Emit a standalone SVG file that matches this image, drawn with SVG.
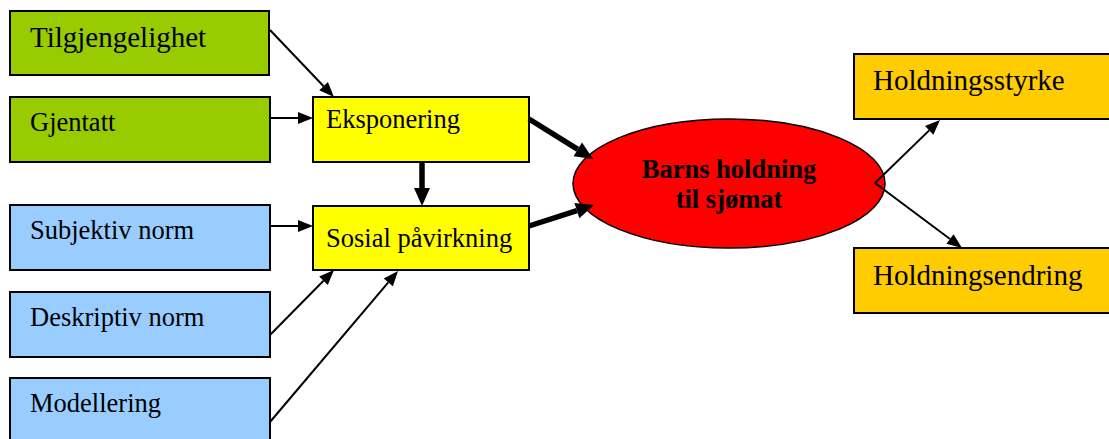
<svg xmlns="http://www.w3.org/2000/svg" width="1109" height="439" viewBox="0 0 1109 439">
<style>
  .box{stroke:#000;stroke-width:2}
  .g{fill:#99CC00}.y{fill:#FFFF00}.b{fill:#99CCFF}.o{fill:#FFCC00}
  .t{font-family:"Liberation Serif","Times New Roman",serif;fill:#000;font-size:26.5px}
  .big{font-size:29px}
  .bold{font-weight:bold;text-anchor:middle}
  .thin{stroke:#000;stroke-width:2;fill:none;marker-end:url(#ah)}
  .thick{stroke:#000;stroke-width:5.5;fill:none;marker-end:url(#ahk)}
</style>
<defs>
  <marker id="ah" markerUnits="userSpaceOnUse" markerWidth="15" markerHeight="12" refX="0" refY="6" orient="auto" overflow="visible">
    <path d="M0,0 L15,6 L0,12 z" fill="#000"/>
  </marker>
  <marker id="ahk" markerUnits="userSpaceOnUse" markerWidth="18" markerHeight="16" refX="0" refY="8" orient="auto" overflow="visible">
    <path d="M0,0 L18,8 L0,16 z" fill="#000"/>
  </marker>
</defs>
<rect width="1109" height="439" fill="#fff"/>
<g id="n-tilgjengelighet"><rect class="box g" x="10" y="11" width="259" height="64"/><text class="t big" x="30" y="47">Tilgjengelighet</text></g>
<g id="n-gjentatt"><rect class="box g" x="10" y="97" width="260" height="65"/><text class="t" x="30" y="131">Gjentatt</text></g>
<g id="n-subjektiv"><rect class="box b" x="10" y="205" width="260" height="65"/><text class="t" x="30" y="239">Subjektiv norm</text></g>
<g id="n-deskriptiv"><rect class="box b" x="10" y="292" width="260" height="65"/><text class="t" x="30" y="326">Deskriptiv norm</text></g>
<g id="n-modellering"><rect class="box b" x="10" y="378" width="260" height="70"/><text class="t" x="30" y="412">Modellering</text></g>
<g id="n-eksponering"><rect class="box y" x="313" y="97" width="216" height="65"/><text class="t" x="326" y="128">Eksponering</text></g>
<g id="n-sosial"><rect class="box y" x="313" y="206" width="216" height="64"/><text class="t" x="326" y="247">Sosial påvirkning</text></g>
<g id="n-barns">
  <ellipse cx="729" cy="183.5" rx="156" ry="64.5" fill="#FF0000" stroke="#000" stroke-width="1.5"/>
  <text class="t bold" x="729" y="178">Barns holdning</text>
  <text class="t bold" x="729" y="208">til sjømat</text>
</g>
<g id="n-styrke"><rect class="box o" x="854" y="54" width="265" height="65"/><text class="t big" x="873" y="90">Holdningsstyrke</text></g>
<g id="n-endring"><rect class="box o" x="854" y="248" width="265" height="65"/><text class="t big" x="873" y="285">Holdningsendring</text></g>
<g id="connectors">
  <line class="thin" x1="270" y1="30" x2="323.6" y2="86.2"/>
  <line class="thin" x1="270" y1="118" x2="298" y2="118"/>
  <line class="thin" x1="270" y1="226" x2="298" y2="226"/>
  <line class="thin" x1="270" y1="335" x2="323.5" y2="280.7"/>
  <line class="thin" x1="270" y1="422" x2="388.3" y2="282.4"/>
  <line class="thick" x1="529" y1="119" x2="577.8" y2="149.4"/>
  <line class="thick" x1="529" y1="226" x2="576.9" y2="210.6"/>
  <line class="thick" x1="422" y1="162" x2="422" y2="188"/>
  <line class="thin" x1="875" y1="183" x2="929.2" y2="130.4"/>
  <line class="thin" x1="875" y1="183" x2="950" y2="239"/>
</g>
</svg>
